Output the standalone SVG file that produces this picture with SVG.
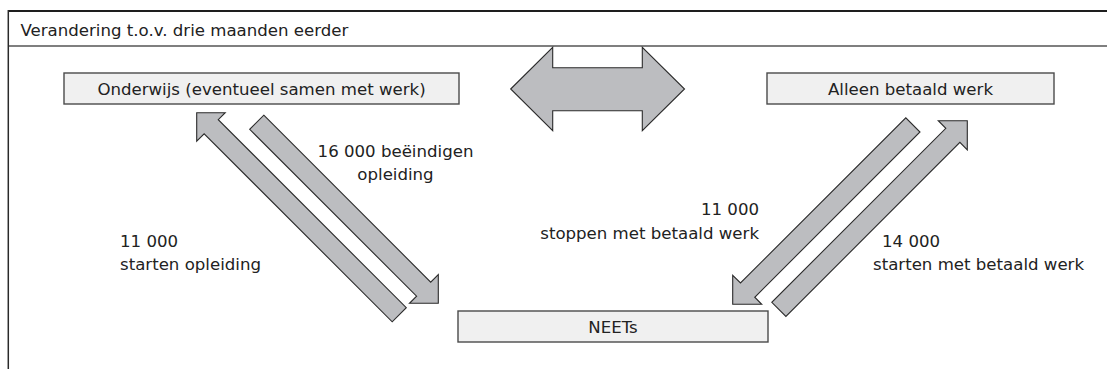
<svg xmlns="http://www.w3.org/2000/svg" width="1107" height="369" viewBox="0 0 1107 369">
<style>
  .bg { fill: #ffffff; }
  .frame-top { stroke: #1e1e1e; stroke-width: 2; fill: none; }
  .frame-line { stroke: #555555; stroke-width: 1.3; fill: none; }
  .frame-left { stroke: #2a2a2a; stroke-width: 1.5; fill: none; }
  .box { fill: #f0f0f0; stroke: #4a4a4a; stroke-width: 1.4; }
  .arrow { fill: #bcbdc0; stroke: #2b2b2b; stroke-width: 1.1; stroke-linejoin: miter; }
  text { font-family: "DejaVu Sans", "Liberation Sans", sans-serif; font-size: 16.6px; fill: #222222; }
  .c { text-anchor: middle; }
  .r { text-anchor: end; }
</style>
<rect class="bg" x="0" y="0" width="1107" height="369"/>
<g id="header">
  <line class="frame-top" x1="8" y1="11" x2="1107" y2="11"/>
  <line class="frame-line" x1="8" y1="46" x2="1107" y2="46"/>
  <line class="frame-left" x1="8.3" y1="10" x2="8.3" y2="369"/>
  <text x="20.5" y="36">Verandering t.o.v. drie maanden eerder</text>
</g>
<g id="node-onderwijs">
  <rect class="box" x="64" y="73" width="395" height="31"/>
  <text class="c" x="261.5" y="94.5">Onderwijs (eventueel samen met werk)</text>
</g>
<g id="node-alleen">
  <rect class="box" x="767" y="73" width="287" height="31"/>
  <text class="c" x="910.5" y="94.5">Alleen betaald werk</text>
</g>
<g id="node-neets">
  <rect class="box" x="458" y="311" width="310" height="31"/>
  <text class="c" x="613" y="332.5">NEETs</text>
</g>
<g id="connectors">
  <polygon class="arrow" points="510.7,89 552.7,47.3 552.7,67.7 642.3,67.7 642.3,47.3 684.5,89 642.3,130.7 642.3,110.7 552.7,110.7 552.7,130.7"/>
  <polygon id="arrow-neets-onderwijs" class="arrow" points="196.7,112.7 225.2,112.7 218.25,119.65 406.3,307.7 392.2,321.8 204.15,133.75 196.7,141.2"/>
  <polygon id="arrow-onderwijs-neets" class="arrow" points="263.8,115.2 430.7,282.1 438.3,274.5 438.3,303.3 409.5,303.3 416.6,296.2 249.7,129.3"/>
  <polygon id="arrow-alleen-neets" class="arrow" points="732.7,304.3 732.7,275.3 740.5,283 905.8,117.8 920,132 754.75,297.25 761.7,304.3"/>
  <polygon id="arrow-neets-alleen" class="arrow" points="967.3,120.7 938.3,120.7 945.8,128.3 771.8,302.3 785.9,316.4 959.9,142.4 967.3,150"/>
  <text class="c" x="395.5" y="157">16 000 beëindigen</text>
  <text class="c" x="395.5" y="180">opleiding</text>
  <text x="120" y="247">11 000</text>
  <text x="120" y="270">starten opleiding</text>
  <text class="r" x="759" y="215">11 000</text>
  <text class="r" x="759" y="239">stoppen met betaald werk</text>
  <text x="882" y="246.5">14 000</text>
  <text x="873" y="270">starten met betaald werk</text>
</g>
</svg>
